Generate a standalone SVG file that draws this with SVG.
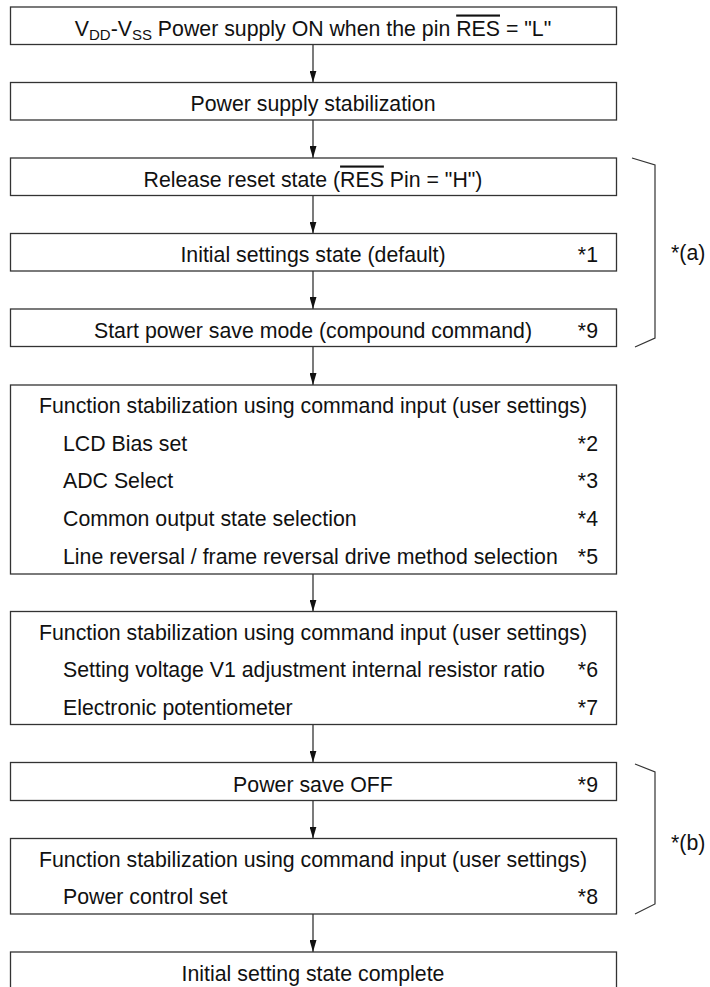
<svg xmlns="http://www.w3.org/2000/svg" width="710" height="987" viewBox="0 0 710 987">
<style>
  .box { fill: #fff; stroke: #333; stroke-width: 1.3; }
  text { font-family: "Liberation Sans", Arial, sans-serif; font-size: 21.3px; fill: #111; }
  .c { text-anchor: middle; }
  .r { text-anchor: end; }
  .sub { font-size: 15px; }
  .conn line { stroke: #222; stroke-width: 1.2; marker-end: url(#ah); }
  .brk { fill: none; stroke: #333; stroke-width: 1.2; }
</style>
<defs>
  <marker id="ah" viewBox="0 0 12 7" refX="12" refY="3.5" markerWidth="12" markerHeight="7" markerUnits="userSpaceOnUse" orient="auto">
    <path d="M0,0 L12,3.5 L0,7 z" fill="#111"/>
  </marker>
</defs>
<rect width="710" height="987" fill="#fff"/>

<g id="conns" class="conn">
  <line x1="313" y1="44.5" x2="313" y2="82.5"/>
  <line x1="313" y1="120" x2="313" y2="158"/>
  <line x1="313" y1="195.5" x2="313" y2="233.5"/>
  <line x1="313" y1="271" x2="313" y2="309"/>
  <line x1="313" y1="346.5" x2="313" y2="385"/>
  <line x1="313" y1="574" x2="313" y2="611.5"/>
  <line x1="313" y1="724.5" x2="313" y2="762.5"/>
  <line x1="313" y1="800.5" x2="313" y2="838.5"/>
  <line x1="313" y1="914" x2="313" y2="952"/>
</g>

<g id="n1">
  <rect class="box" x="10.5" y="7" width="606" height="37.5"/>
  <text class="c" x="313" y="35.5">V<tspan class="sub" dy="4">DD</tspan><tspan dy="-4">-V</tspan><tspan class="sub" dy="4">SS</tspan><tspan dy="-4"> Power supply ON when the pin </tspan><tspan text-decoration="overline">RES</tspan> = "L"</text>
</g>
<g id="n2">
  <rect class="box" x="10.5" y="82.5" width="606" height="37.5"/>
  <text class="c" x="313" y="111">Power supply stabilization</text>
</g>
<g id="n3">
  <rect class="box" x="10.5" y="158" width="606" height="37.5"/>
  <text class="c" x="313" y="186.5">Release reset state (<tspan text-decoration="overline">RES</tspan> Pin = "H")</text>
</g>
<g id="n4">
  <rect class="box" x="10.5" y="233.5" width="606" height="37.5"/>
  <text class="c" x="313" y="262">Initial settings state (default)</text>
  <text class="r" x="598" y="262">*1</text>
</g>
<g id="n5">
  <rect class="box" x="10.5" y="309" width="606" height="37.5"/>
  <text class="c" x="313" y="337.5">Start power save mode (compound command)</text>
  <text class="r" x="598" y="337.5">*9</text>
</g>
<g id="n6">
  <rect class="box" x="10.5" y="385" width="606" height="189"/>
  <text class="c" x="313" y="413">Function stabilization using command input (user settings)</text>
  <text x="63" y="450.7">LCD Bias set</text>
  <text class="r" x="598" y="450.7">*2</text>
  <text x="63" y="488.4">ADC Select</text>
  <text class="r" x="598" y="488.4">*3</text>
  <text x="63" y="526.1">Common output state selection</text>
  <text class="r" x="598" y="526.1">*4</text>
  <text x="63" y="563.8">Line reversal / frame reversal drive method selection</text>
  <text class="r" x="598" y="563.8">*5</text>
</g>
<g id="n7">
  <rect class="box" x="10.5" y="611.5" width="606" height="113"/>
  <text class="c" x="313" y="639.5">Function stabilization using command input (user settings)</text>
  <text x="63" y="677.2">Setting voltage V1 adjustment internal resistor ratio</text>
  <text class="r" x="598" y="677.2">*6</text>
  <text x="63" y="714.9">Electronic potentiometer</text>
  <text class="r" x="598" y="714.9">*7</text>
</g>
<g id="n8">
  <rect class="box" x="10.5" y="762.5" width="606" height="38"/>
  <text class="c" x="313" y="791.5">Power save OFF</text>
  <text class="r" x="598" y="791.5">*9</text>
</g>
<g id="n9">
  <rect class="box" x="10.5" y="838.5" width="606" height="75.5"/>
  <text class="c" x="313" y="866.5">Function stabilization using command input (user settings)</text>
  <text x="63" y="904.2">Power control set</text>
  <text class="r" x="598" y="904.2">*8</text>
</g>
<g id="n10">
  <rect class="box" x="10.5" y="952" width="606" height="50"/>
  <text class="c" x="313" y="980.5">Initial setting state complete</text>
</g>

<g id="bracket-a">
  <path class="brk" d="M632,158 L655,165 L655,338 L635,347"/>
  <text x="671" y="260">*(a)</text>
</g>
<g id="bracket-b">
  <path class="brk" d="M635,764 L655,772 L655,904 L635,914"/>
  <text x="671" y="850">*(b)</text>
</g>
</svg>
